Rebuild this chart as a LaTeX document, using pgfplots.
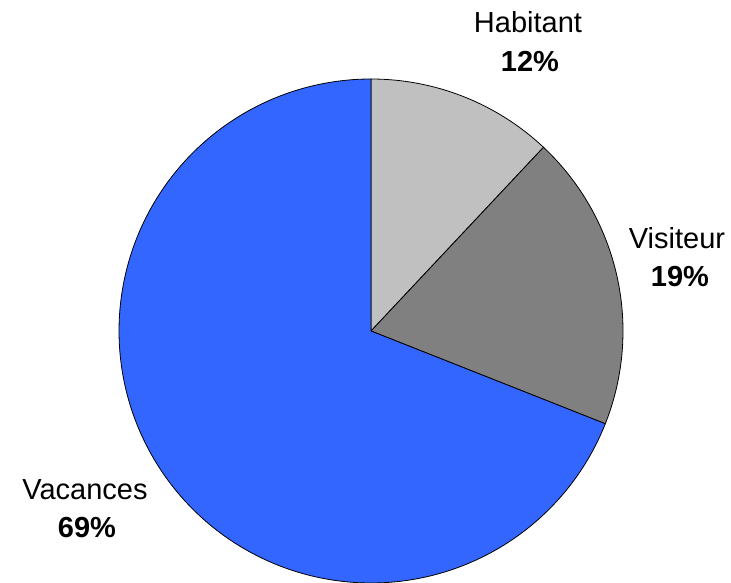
\documentclass[border=0pt]{standalone}
\usepackage{pgfplots}
\pgfplotsset{compat=1.18}
\usepackage{fontspec}
\setmainfont{Liberation Sans}
\definecolor{hab}{HTML}{C0C0C0}
\definecolor{vis}{HTML}{808080}
\definecolor{vac}{HTML}{3366FF}
% shares in percent
\def\pHab{12}
\def\pVis{19}
\def\pVac{69}
\begin{document}
\begin{tikzpicture}
\pgfmathsetmacro{\aA}{90}
\pgfmathsetmacro{\aB}{90-3.6*\pHab}
\pgfmathsetmacro{\aC}{\aB-3.6*\pVis}
\pgfmathsetmacro{\aD}{\aC-3.6*\pVac}
\begin{axis}[
  width=731pt, height=583pt, scale only axis,
  xmin=0, xmax=731, ymin=0, ymax=583,
  hide axis, clip=false,
]
\addplot[fill=hab, draw=black, line width=0.8pt, domain=\aA:\aB, samples=60, variable=\t]
  ({371+252*cos(\t)},{252+252*sin(\t)}) -- (axis cs:371,252) -- cycle;
\addplot[fill=vis, draw=black, line width=0.8pt, domain=\aB:\aC, samples=80, variable=\t]
  ({371+252*cos(\t)},{252+252*sin(\t)}) -- (axis cs:371,252) -- cycle;
\addplot[fill=vac, draw=black, line width=0.8pt, domain=\aC:\aD, samples=240, variable=\t]
  ({371+252*cos(\t)},{252+252*sin(\t)}) -- (axis cs:371,252) -- cycle;
\node[anchor=base, font=\fontsize{29}{35}\selectfont, inner sep=0pt] at (axis cs:528,550) {Habitant};
\node[anchor=base, font=\fontsize{29}{35}\selectfont\bfseries, inner sep=0pt] at (axis cs:530,511) {\pHab\%};
\node[anchor=base, font=\fontsize{29}{35}\selectfont, inner sep=0pt] at (axis cs:677,334) {Visiteur};
\node[anchor=base, font=\fontsize{29}{35}\selectfont\bfseries, inner sep=0pt] at (axis cs:680,296) {\pVis\%};
\node[anchor=base, font=\fontsize{29}{35}\selectfont, inner sep=0pt] at (axis cs:85,83) {Vacances};
\node[anchor=base, font=\fontsize{29}{35}\selectfont\bfseries, inner sep=0pt] at (axis cs:87,45) {\pVac\%};
\end{axis}
\pgfresetboundingbox
\path[use as bounding box] (current axis.south west) rectangle (current axis.north east);
\end{tikzpicture}
\end{document}
